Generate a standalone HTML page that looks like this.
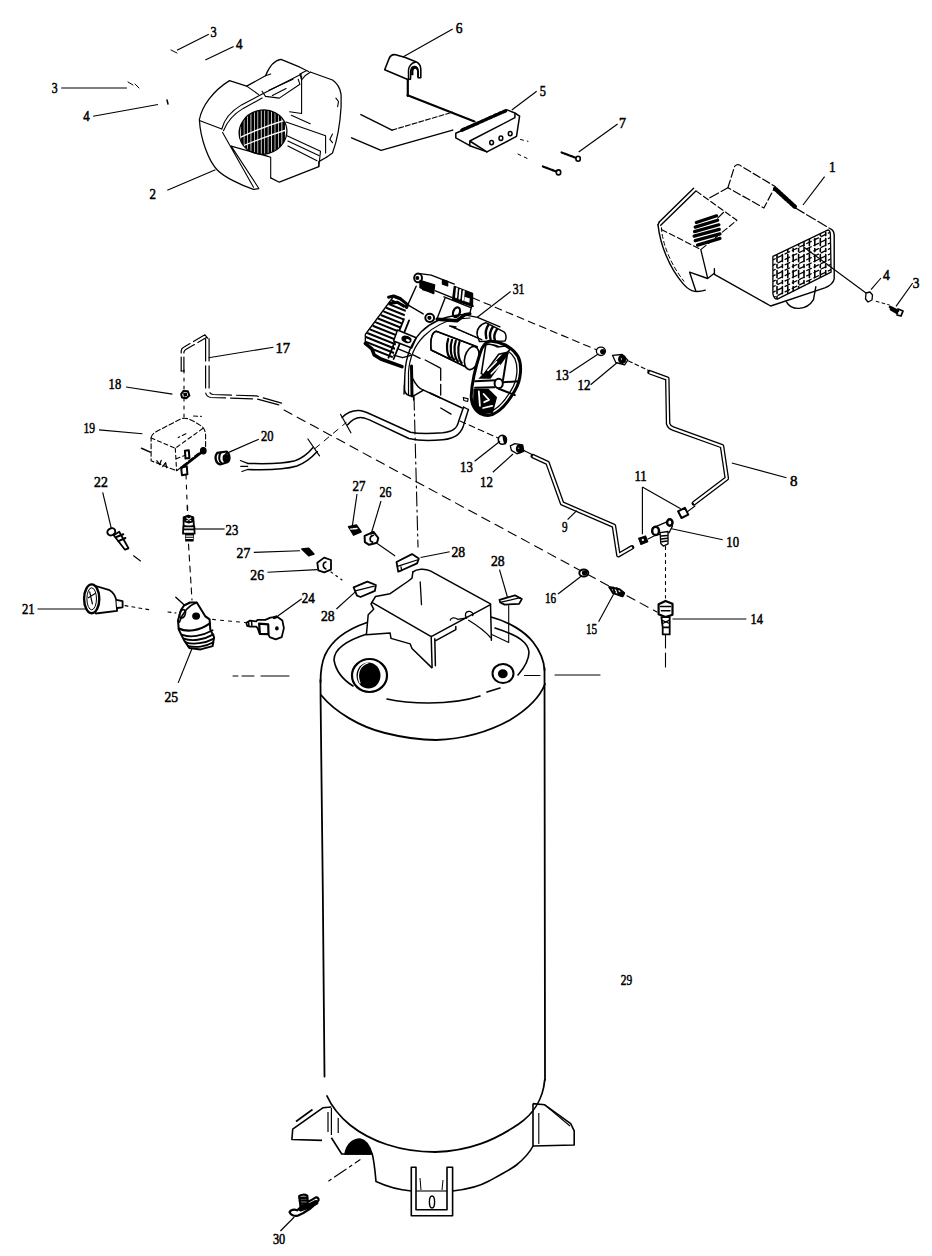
<!DOCTYPE html>
<html><head><meta charset="utf-8"><style>
html,body{margin:0;padding:0;background:#fff;width:932px;height:1256px;overflow:hidden}
svg{display:block}
.lb text{font-family:"Liberation Serif",serif;font-size:15.5px;fill:#000;stroke:#000;stroke-width:0.55px}
</style></head><body>
<svg width="932" height="1256" viewBox="0 0 932 1256">
<g id="tank" stroke="#000" stroke-width="1.8" fill="none" stroke-linecap="round" stroke-linejoin="round">
 <path d="M320.5,680 L320.6,700 L322.8,890 L324.5,1076.5"/>
 <path d="M544.5,668 L545,1080"/>
 <path d="M544.7,1080 C543,1100 532,1115 518.7,1124 C495,1140 470,1151 435,1152 C400,1152 370,1141 350,1125 C338,1115 331,1105 327,1096"/>
 <path d="M320.5,682 C320.5,668 322,662 325,655 C331,642 345,630 367,622.5"/>
 <path d="M491,617 C510,622 525,632 533,642 C540,651 544,660 544.5,670"/>
 <path d="M321,695 C335,712 360,727 385,733 C405,738 420,740 436,740 C465,739 490,731 510,720 C528,709 540,697 545,684"/>
 <path d="M367,634 C345,641 334,650 334,660 C336,672 345,681 353,686" stroke-width="1.6"/>
 <path d="M387,699 C400,702 415,703 429,703 C450,703 465,701 480,696" stroke-width="1.6"/>
 <path d="M518,675 C525,667 529,660 529,652 C528,643 520,636 495,628" stroke-width="1.6"/>
 <path d="M487,692 L500,688" stroke-width="1.6"/>
 <!-- left port -->
 <ellipse cx="369.5" cy="675.5" rx="17.5" ry="16.5" stroke-width="2.2"/>
 <ellipse cx="368.5" cy="675.5" rx="12" ry="13" fill="#000" stroke="none"/>
 <path d="M360,683 C356,674 360,665 368,663" stroke="#fff" stroke-width="1.2"/>
 <!-- right port -->
 <ellipse cx="503" cy="673.5" rx="10.5" ry="9.5" stroke-width="2"/>
 <ellipse cx="502.8" cy="673.8" rx="4" ry="3.6" fill="#000"/>
</g>
<g id="feet" stroke="#000" stroke-width="1.6" fill="none" stroke-linejoin="round">
 <path d="M331.4,1107 L322.8,1107.8 L292.7,1129.2 L291.9,1139.5 L322,1140.4"/>
 <path d="M296,1121.5 L312.5,1109.5"/>
 <path d="M331.4,1108 L331.4,1135 M338.2,1118 L338.2,1133 M328,1112 L328,1132" stroke-width="1.2"/>
 <path d="M331.4,1137.8 L341.7,1154 L370.8,1154"/>
 <path d="M345,1154 C347,1143 354,1139 360,1139 C366,1140 370,1147 372,1154 Z" fill="#000"/>
 <path d="M372,1153 C374,1160 375,1170 376,1181.5 C390,1188 400,1190 411.3,1191"/>
 <path d="M452.6,1191 C470,1189 480,1186 488,1181.5 C500,1175 510,1170 516.4,1165 C525,1158 530,1152 533,1146"/>
 <path d="M411.3,1167.3 L411.3,1215.7 L452.6,1215.7 L452.6,1167.3 L447,1167.3 L447,1209.8 L416,1209.8 L416,1167.3 Z"/>
 <path d="M416,1191 L447,1191" stroke-width="1.1"/>
 <ellipse cx="432" cy="1202" rx="2.6" ry="6" stroke-width="1.4"/>
 <path d="M420,1178 L421,1190 M443,1180 L442,1190" stroke-width="1"/>
 <path d="M533,1103.6 L544.7,1104.8 L570.7,1123.7 L574.2,1130.8 L574.2,1145 L533,1146 L533,1103.6"/>
 <path d="M538.8,1113 L538.8,1144 M544.7,1104.8 L570,1126" stroke-width="1.1"/>
</g>

<g stroke="#000" stroke-width="1.25" fill="none" stroke-linecap="round" stroke-linejoin="round">
<path d="M 199.4,119.5 C 202.0,106.7 212.3,91.2 229.5,80.6 L 246.7,86.1 L 265.5,75.8 C 269.0,67.2 274.1,60.3 281.0,59.4 L 299.9,67.2 L 308.5,71.5" />
<path d="M 310.2,72.0 L 332.5,80.0 C 337.6,83.5 340.2,87.8 341.1,94.6 L 341.1,106.7 C 340.2,122.1 337.6,139.3 332.5,153.0 L 326.5,157.3" />
<path d="M 199.4,119.5 C 200.3,139.3 208.9,161.6 217.5,170.2 C 224.3,177.0 241.5,185.6 253.5,189.4 L 258.7,188.7" />
<path d="M 326.5,157.3 L 318.8,161.6 L 318.8,166.7 L 279.3,182.2 L 270.7,177.9" />
</g>
<g stroke="#000" stroke-width="1.1" fill="none" stroke-linecap="round" stroke-linejoin="round">
<path d="M 199.4,120.4 L 221.8,129.0" />
<path d="M 221.8,129.0 C 224.3,118.7 232.9,110.1 241.5,104.9 L 260.4,95.0 L 301.6,74.0" />
<path d="M 223.5,130.7 C 226.9,122.1 234.6,113.5 243.2,108.4 L 262.1,98.1" />
<path d="M 222.6,132.4 L 253.5,187.3 M 231.2,146.1 L 258.7,188.2" />
<path d="M 231.2,146.1 L 270.7,157.3 L 270.7,177.9 M 263.8,154.7 L 270.7,157.3" />
<path d="M 286.1,122.1 L 325.6,135.8 L 325.6,153.0 M 287.0,135.8 L 320.5,151.3 L 318.8,166.7 M 287.9,141.0 L 318.8,155.6 M 287.9,146.1 L 317.0,160.7" />
<path d="M 301.6,75.8 L 301.6,113.5 L 289.6,111.8 M 291.3,115.2 L 310.2,123.8" />
<path d="M 262.1,91.2 L 265.5,96.4 L 279.3,98.1 L 299.9,84.3 L 298.2,79.2 M 269.0,90.3 L 293.0,79.2 M 272.4,95.5 L 286.1,88.6" />
<path d="M 310.2,72.3 L 305.0,75.8 L 301.6,80.0 L 299.9,74.0 L 306.7,70.6" />
<path d="M 335.9,98.1 L 338.5,101.5 L 337.6,106.7 M 332.5,134.1 L 329.9,139.3 L 332.5,142.7" />
<path d="M 265.5,75.8 L 270.7,74.0 M 246.7,86.1 L 258.7,94.6" />
</g>
<defs><clipPath id="gr2"><ellipse cx="263.0" cy="132.1" rx="24.0" ry="22.0" transform="rotate(-15 263.0 132.1)" /></clipPath></defs>
<g clip-path="url(#gr2)"><path d="M 238.9,108.4 L 238.9,156.4 M 242.4,108.4 L 242.4,156.4 M 245.8,108.4 L 245.8,156.4 M 249.2,108.4 L 249.2,156.4 M 252.7,108.4 L 252.7,156.4 M 256.1,108.4 L 256.1,156.4 M 259.5,108.4 L 259.5,156.4 M 263.0,108.4 L 263.0,156.4 M 266.4,108.4 L 266.4,156.4 M 269.8,108.4 L 269.8,156.4 M 273.3,108.4 L 273.3,156.4 M 276.7,108.4 L 276.7,156.4 M 280.1,108.4 L 280.1,156.4 M 283.6,108.4 L 283.6,156.4" stroke="#000" stroke-width="2.7"/><path d="M 236.4,139.3 C 250.1,132.4 267.3,125.5 289.6,118.7 M 236.4,148.7 C 250.1,142.7 267.3,135.8 289.6,129.0" stroke="#fff" stroke-width="1.3" fill="none"/></g>
<ellipse cx="263.0" cy="132.1" rx="24.0" ry="22.0" transform="rotate(-15 263.0 132.1)" stroke="#000" stroke-width="1.2" fill="none"/>
<g stroke="#000" stroke-width="1.5" fill="none" stroke-linecap="round" stroke-linejoin="round">
<path d="M 384.7,69.8 L 388.8,59.2 C 390.1,55.9 393.0,54.3 395.6,54.8 L 405.3,57.6 L 415.2,61.4 C 418.8,62.7 420.8,65.6 420.8,69.1 L 420.8,77.7 L 418.1,77.7 L 418.1,72.0 C 417.8,68.5 416.2,66.6 414.3,66.6 C 412.0,66.9 410.7,69.5 410.7,72.0 L 410.5,79.1 L 407.8,79.4 Z" fill="#fff" stroke-width="1.6"/>
<path d="M 408.5,79.1 L 408.5,70.1 C 408.8,65.6 412.0,62.7 415.2,62.3" stroke-width="1.5"/>
<path d="M 411.1,75.3 L 411.4,69.5 C 412.0,66.6 413.9,65.6 415.2,65.7 C 417.5,66.2 418.8,68.2 418.8,70.8 L 418.8,76.9 L 417.2,76.9 L 417.2,71.4 C 416.8,69.5 416.2,68.7 415.2,68.7 C 413.9,68.8 413.5,70.1 413.4,72.0 L 413.4,75.3 Z" fill="#000" stroke="none"/>
<path d="M 407.8,79.8 L 407.8,95.9" stroke-width="2.2"/>
<path d="M 407.6,95.3 L 474.5,121.4" stroke-width="2.2"/>
<path d="M 360.9,114.6 L 392.0,130.1 M 351.6,137.9 L 381.1,150.4 L 452.7,130.1" />
<path d="M 392.0,130.1 L 452.7,112.1" stroke-width="1.1" stroke-dasharray="5 2"/>
<path d="M 455.8,133.2 L 507.1,109.9 L 514.9,113.0 L 519.6,116.1 L 516.5,136.4 L 486.9,151.9 L 469.8,145.7 L 455.8,137.9 Z" fill="#fff"/>
<path d="M 469.8,145.7 L 469.8,141.0 L 514.9,117.7 M 486.9,151.9 L 469.8,141.0 M 514.9,113.9 L 514.9,117.7" />
<path d="M 462.0,130.1 L 505.6,110.8" stroke-width="3.5" stroke-dasharray="3 2"/>
<ellipse cx="491.6" cy="142.6" rx="1.9" ry="2.2" /><ellipse cx="500.9" cy="138.2" rx="1.9" ry="2.2" /><ellipse cx="510.2" cy="133.6" rx="1.9" ry="2.2" />
<path d="M 520.5,139.5 L 528.0,141.3 M 518.0,154.1 L 528.0,158.8" stroke-width="1" stroke-dasharray="3 4"/>
<path d="M 561.6,152.5 L 576.5,158.1 M 542.9,166.5 L 556.9,171.8" stroke-width="2.2" stroke-dasharray="2 1.2"/>
<ellipse cx="578.1" cy="158.8" rx="2.2" ry="2.5" fill="#fff" stroke-width="1.6"/><ellipse cx="558.5" cy="172.4" rx="2.2" ry="2.5" fill="#fff" stroke-width="1.6"/>
</g>
<g stroke="#000" stroke-width="1.3" fill="none" stroke-linecap="round" stroke-linejoin="round">
<path d="M 659.2,222.6 L 694.1,188.8 L 696.3,191.1 L 736.9,220.3 L 714.4,272.2 L 707.6,278.9 L 705.3,290.2 C 694.1,293.6 688.4,290.2 682.8,283.4 C 669.3,267.7 660.3,245.1 658.0,224.8 Z" fill="#fff" stroke="none"/>
<path d="M 659.2,222.1 L 693.6,188.3 M 660.7,225.3 L 695.9,191.1 M 658.0,224.8 C 660.3,245.1 669.3,267.7 682.8,283.4 C 688.4,290.2 694.1,293.6 705.3,290.2" stroke-width="1.4"/>
<path d="M 661.4,227.6 C 662.5,245.1 671.5,265.4 683.9,281.2" stroke-width="1" stroke-dasharray="4 3"/>
<path d="M 658.0,224.8 L 659.2,222.1" stroke-width="1.4"/>
<path d="M 689.6,272.2 L 695.9,291.3 M 689.6,272.2 L 707.6,278.5 L 714.4,273.3" stroke-width="1.4"/>
<path d="M 661.4,229.4 L 700.8,249.6 L 736.9,220.3 L 696.3,191.1" stroke-width="1.1" stroke-dasharray="6 3"/>
<path d="M 700.8,249.6 L 707.6,277.8" stroke-width="1.3"/>
<path d="M 696.3,222.6 L 716.6,215.8 M 695.2,227.1 L 717.7,220.3 M 694.5,231.6 L 718.9,224.8 M 694.1,236.1 L 719.3,229.4 M 695.2,240.6 L 720.0,233.9 M 697.5,245.1 L 720.0,238.4" stroke-width="3.2"/>
<path d="M 717.7,218.1 L 723.4,212.5" stroke-width="1.2"/>
<path d="M 727.9,187.7 L 734.6,166.3 C 736.9,164.0 739.1,164.0 741.4,166.3 L 775.2,186.5 L 763.9,208.0 Z" fill="#fff" stroke-width="1.2" stroke-dasharray="8 3"/>
<path d="M 775.2,188.8 L 795.5,207.3" stroke-width="4.5" stroke-dasharray="2 1.5"/>
<path d="M 709.8,197.8 L 727.9,187.7 M 795.5,208.0 L 831.5,229.4" stroke-width="1.2" stroke-dasharray="10 3"/>
<path d="M 831.5,229.4 C 833.3,230.5 834.2,232.7 834.2,236.1 L 834.2,278.9 C 833.3,283.4 830.4,285.7 824.8,287.9 L 770.7,306.0 L 714.4,274.4 L 714.4,268.8" stroke-width="1.4"/>
<path d="M 772.9,256.4 L 828.1,229.8 C 829.7,230.5 830.4,232.7 830.4,235.0 L 831.1,272.2 L 777.4,299.2 C 775.2,299.2 773.4,297.0 772.9,293.6 Z" fill="#fff" stroke-width="1.3"/>
<clipPath id="g1c"><path d="M 772.9,256.4 L 828.1,229.8 C 829.7,230.5 830.4,232.7 830.4,235.0 L 831.1,272.2 L 777.4,299.2 C 775.2,299.2 773.4,297.0 772.9,293.6 Z"/></clipPath>
<g clip-path="url(#g1c)"><path d="M 777.0,222.6 L 777.0,308.2 M 782.4,222.6 L 782.4,308.2 M 787.8,222.6 L 787.8,308.2 M 793.2,222.6 L 793.2,308.2 M 798.6,222.6 L 798.6,308.2 M 804.0,222.6 L 804.0,308.2 M 809.4,222.6 L 809.4,308.2 M 814.8,222.6 L 814.8,308.2 M 820.3,222.6 L 820.3,308.2 M 825.7,222.6 L 825.7,308.2" stroke-width="1.6" stroke-dasharray="7 3 3 3"/><path d="M 770.7,260.9 L 833.8,230.5 M 770.7,266.3 L 833.8,235.9 M 770.7,271.7 L 833.8,241.3 M 770.7,277.1 L 833.8,246.7 M 770.7,282.5 L 833.8,252.1 M 770.7,287.9 L 833.8,257.5 M 770.7,293.3 L 833.8,262.9 M 770.7,298.8 L 833.8,268.3 M 770.7,304.2 L 833.8,273.7" stroke-width="1.3" stroke-dasharray="5 3"/></g>
<path d="M 786.5,301.9 C 791.0,310.9 806.7,310.9 813.5,299.7 L 815.8,286.8" stroke-width="1.4"/>
<path d="M 866.0,293.0 L 870.0,292.0 L 872.5,295.0 L 872.0,300.0 L 868.0,302.0 L 865.5,299.0 Z" stroke-width="1.3"/>
<path d="M 876.1,301.3 L 889.4,305.0" stroke-dasharray="3 3" stroke-width="1"/>
<path d="M 890.0,307.0 L 898.0,311.0 M 891.0,309.5 L 897.0,313.0" stroke-width="2.6"/>
<path d="M 898.0,309.0 L 903.0,311.0 L 901.0,316.0 L 897.0,315.0" stroke-width="1.8"/>
</g>
<g stroke="#000" stroke-width="1.4" fill="none" stroke-linecap="round" stroke-linejoin="round">
<path d="M 436.4,331.3 C 432.1,331.8 430.0,339.3 431.1,350.0 L 470.8,369.4 L 477.2,346.8 Z" fill="#fff"/>
<path d="M 436.4,331.3 L 477.2,346.8 M 431.1,350.0 L 470.8,369.4 M 436.4,331.3 C 432.1,331.8 430.0,339.3 431.1,350.0" stroke-width="1.5"/>
<path d="M 448.2,338.8 C 446.1,344.7 446.6,355.4 450.4,358.1 M 452.0,339.8 C 449.8,345.8 450.4,356.5 454.1,359.7 M 455.8,340.9 C 453.6,346.8 454.1,357.6 457.9,361.3 M 459.5,342.0 C 457.4,347.9 457.9,358.6 461.7,362.9" stroke-width="2.2"/>
<ellipse cx="471.8" cy="358.1" rx="7.0" ry="11.8" transform="rotate(15 471.8 358.1)" fill="#fff" stroke-width="1.6"/>
<path d="M 449.3,325.9 L 481.5,339.8" stroke-width="1.0" stroke-dasharray="3 1.5"/>
<path d="M 477.2,335.0 C 476.1,329.7 480.4,323.8 485.8,322.7 L 504.0,331.8 C 506.7,333.9 506.4,338.2 505.1,340.9 L 479.4,341.5 Z" fill="#fff" stroke-width="1.5"/>
<path d="M 488.5,324.8 C 485.8,328.6 485.3,333.9 486.3,338.2 M 492.8,327.0 C 490.1,330.7 489.5,335.6 490.6,339.3 M 497.1,329.1 C 494.4,332.9 493.8,337.2 494.9,340.4" stroke-width="2.4"/>
<path d="M 430.0,393.0 L 462.2,408.0" stroke-width="1.5"/>
<path d="M 440.7,368.3 L 440.7,395.1 M 440.7,408.0 L 451.5,414.4" stroke-width="1.3" stroke-dasharray="12 4"/>
<path d="M 490.1,340.9 C 499.7,341.5 511.5,345.8 518.0,356.5 C 522.3,365.1 521.2,380.1 514.8,390.8 C 507.3,403.7 498.7,414.4 487.9,415.5 C 477.2,415.5 470.8,405.8 471.3,395.1 C 471.8,384.4 475.1,368.3 480.4,352.2 C 482.6,345.8 485.8,341.5 490.1,340.9 Z" fill="#fff" stroke-width="3"/>
<path d="M 487.9,344.1 C 497.6,344.7 509.4,349.0 514.8,358.6 C 518.5,367.2 517.4,380.1 511.5,389.7 C 505.1,400.5 497.6,410.1 488.5,411.7" stroke-width="1.3"/>
<path d="M 478.3,378.8 L 505.1,351.3 L 508.9,353.5 L 490.6,378.8 Z" fill="#000" stroke="none"/>
<path d="M 485.8,344.9 C 490.1,342.7 494.4,345.5 497.6,347.0 L 505.1,346.0 L 509.9,349.2 L 507.5,352.4 L 498.7,354.3 L 483.6,374.7 L 481.3,373.6 Z" fill="#fff" stroke-width="1.6"/>
<path d="M 487.9,370.4 L 496.5,361.8 M 491.2,373.6 L 499.7,365.1" stroke="#fff" stroke-width="1.6"/>
<path d="M 473.5,388.7 L 488.5,388.7 L 497.1,397.3 L 492.8,413.3 L 480.4,414.6 L 472.9,405.8 Z" fill="#000" stroke="none"/>
<path d="M 478.8,391.4 L 479.9,405.8 M 483.6,394.0 L 489.0,399.9 L 484.2,402.1 M 483.1,408.0 L 492.2,405.8" stroke="#fff" stroke-width="1.8"/>
<path d="M 475.1,381.2 L 500.8,380.1 M 475.1,387.8 L 494.4,387.2 M 503.0,382.2 L 519.3,381.2 M 507.5,352.2 L 503.0,380.1 M 498.7,388.7 L 514.8,395.1" stroke-width="2"/>
<ellipse cx="498.7" cy="383.5" rx="4.1" ry="4.8" fill="#fff" stroke-width="2"/>
<path d="M 463.3,397.5 L 468.1,398.9 L 467.6,401.5 L 463.8,400.5 Z" fill="#fff" stroke-width="1.2"/>
<path d="M 404.2,368.6 L 404.6,390.1 C 405.1,394.4 408.1,396.1 413.2,396.1 L 423.5,390.1 L 440.0,397.8" stroke-width="1.5"/>
<path d="M 412.4,378.1 C 415.8,384.9 420.1,389.2 423.5,390.1" stroke-width="1.4"/>
<path d="M 413.2,354.9 L 420.1,358.3 M 425.2,360.0 L 440.0,367.8" stroke-width="1.3"/>
<path d="M 413.6,397.0 L 413.6,400.0" stroke-width="1.3"/>
<path d="M 393.6,296.5 L 401.4,299.8 L 407.1,304.9 L 427.1,325.5 L 415.5,337.1 L 403.9,385.0 L 380.8,385.0 L 380.8,359.0 L 374.3,355.1 L 371.7,348.7 L 365.3,343.5 L 365.3,334.5 Z" fill="#fff" stroke="none"/>
<clipPath id="fin2"><path d="M 393.6,296.5 L 401.4,299.8 L 407.1,304.9 L 403.9,319.1 L 397.5,337.1 L 393.6,355.1 L 402.6,366.7 L 380.8,359.0 L 374.3,355.1 L 371.7,348.7 L 365.3,343.5 L 365.3,334.5 Z"/></clipPath>
<g clip-path="url(#fin2)"><path d="M 394.9,297.2 L 427.1,310.1 M 392.2,300.8 L 424.4,313.7 M 389.5,304.4 L 421.7,317.3 M 386.8,308.0 L 419.0,320.9 M 384.1,311.6 L 416.3,324.5 M 381.4,315.2 L 413.6,328.1 M 378.7,318.8 L 410.9,331.7 M 376.0,322.4 L 408.2,335.3 M 373.3,326.0 L 405.5,338.9 M 370.6,329.6 L 402.8,342.5 M 367.9,333.2 L 400.1,346.1 M 365.2,336.8 L 397.4,349.7 M 362.5,340.5 L 394.7,353.3 M 359.8,344.1 L 392.0,356.9" stroke-width="2.0"/></g>
<path d="M 393.6,296.5 L 365.3,334.5 L 365.3,343.5" stroke-width="1.3"/>
<path d="M 365.3,343.5 L 371.7,348.7 L 374.3,355.1 L 380.8,359.0 L 402.0,366.7" stroke-width="3.5"/>
<path d="M 388.5,297.2 L 393.6,295.9 L 400.1,298.5 L 407.8,304.9 L 406.5,307.5 M 389.8,303.6 L 397.5,302.3 L 403.9,306.2" stroke-width="3"/>
<path d="M 403.9,319.1 L 388.5,357.7 M 409.1,320.4 L 393.6,359.0" stroke-width="1.8"/>
<path d="M 397.5,330.0 L 416.2,337.7 L 411.7,348.0 L 393.6,341.0 Z" fill="#fff" stroke-width="1.5"/>
<ellipse cx="406.5" cy="339.4" rx="4.5" ry="2.8" transform="rotate(20 406.5 339.4)" fill="#000"/>
<ellipse cx="407.8" cy="340.3" rx="2.1" ry="1.2" transform="rotate(20 407.8 340.3)" fill="#fff" stroke="none"/>
<path d="M 393.6,355.1 L 402.6,357.7 L 411.7,355.1 M 397.5,348.7 L 410.4,353.8" stroke-width="1.4"/>
<path d="M 416.2,286.2 L 407.8,304.9 M 407.8,304.9 L 423.2,313.9" stroke-width="1.4"/>
<ellipse cx="418.1" cy="277.9" rx="3.9" ry="4.4" fill="#fff" stroke-width="2"/>
<ellipse cx="417.4" cy="277.9" rx="1.2" ry="1.3" fill="#000"/>
<path d="M 423.2,284.3 L 433.5,287.5 L 432.9,292.7 L 422.6,289.5 Z" fill="#000"/>
<ellipse cx="429.7" cy="317.8" rx="4.4" ry="4.1" fill="#fff" stroke-width="2"/>
<ellipse cx="429.4" cy="317.8" rx="1.4" ry="1.4" fill="#000"/>
<path d="M 420.0,273.6 L 431.2,275.1 L 454.3,284.1 M 435.5,290.8 L 473.2,306.2 M 444.0,296.8 L 471.5,307.9 M 444.9,298.5 L 437.2,318.2 M 471.5,306.2 L 469.8,313.9" stroke-width="1.4"/>
<path d="M 420.0,280.5 L 434.6,284.9 L 433.7,293.5 L 420.0,287.5 Z M 442.5,279.8 L 447.6,281.5 L 447.6,285.8 L 442.5,284.1 Z" fill="#000"/>
<path d="M 454.3,286.5 L 472.5,293.3 L 472.5,306.4 L 452.6,299.5 Z" fill="#000"/>
<path d="M 456.9,288.6 L 456.1,297.2 M 460.3,289.9 L 459.5,298.5 M 463.8,291.2 L 462.9,299.8" stroke="#fff" stroke-width="2"/>
<path d="M 464.6,296.8 L 469.8,298.5 L 469.4,302.8 L 464.2,301.1 Z" fill="#fff" stroke="none"/>
<ellipse cx="456.5" cy="312.2" rx="3.3" ry="5.0" transform="rotate(20 456.5 312.2)" fill="#fff" stroke-width="2.2"/>
<path d="M 437.2,319.2 L 456.9,320.8 L 464.6,314.8 L 469.8,313.9" stroke-width="3.5"/>
<path d="M 464.6,314.8 L 477.5,317.4 L 500.0,326.8 M 450.0,325.9 L 456.1,326.8 M 450.0,325.9 L 481.8,339.7" stroke-width="1.3"/>
<path d="M404,394 L405,372 C406,356 412,342 421,332 C430,323 442,317 458,315 L470,314" stroke-width="1.4"/>
<path d="M408.5,395 L408.5,372 C409.5,358 415,345 424,336 C433,327 444,321 458,319 L470,318" stroke-width="1.2"/>
<path d="M411.5,366 L412,396" stroke-width="3"/>
</g>
<g stroke="#000" stroke-width="1.2" fill="none" stroke-linecap="round" stroke-linejoin="round">
<path d="M 181.2,371.0 L 181.2,350.8 Q 181.4,348.4 183.7,347.3 L 204.9,334.8 M 183.9,371.0 L 183.9,352.2 Q 184.2,350.4 186.2,349.3 L 206.0,337.8 M 204.9,334.8 L 207.9,338.3" stroke-dasharray="14 4"/>
<path d="M 205.6,338.9 L 205.6,392.0 Q 205.8,396.4 210.7,397.5 L 256.5,398.9 L 282.7,405.9 M 209.1,338.9 L 209.1,390.3 Q 209.3,393.6 213.2,394.5 L 256.5,395.9 L 281.6,403.1" stroke-dasharray="22 5"/>
<path d="M 181.2,371.0 L 183.9,371.0" />
</g>
<g stroke="#000" stroke-width="1.5" fill="none" stroke-linecap="round" stroke-linejoin="round">
<path d="M 342.1,417.5 C 346.1,413.5 352.5,410.3 359.0,410.6 C 362.2,410.8 365.4,411.9 370.2,414.0 L 410.5,432.3 C 416.9,433.6 429.8,433.9 442.7,432.8 C 452.3,431.7 457.1,428.8 458.8,420.8 L 463.6,407.1" />
<path d="M 347.7,424.8 C 350.9,420.8 355.8,417.5 360.6,417.5 C 363.0,417.5 365.4,418.3 369.4,419.9 L 408.9,438.5 C 416.9,440.4 429.8,440.9 442.7,439.7 C 455.5,438.5 462.0,433.6 464.4,422.4 L 468.4,409.5" />
<path d="M 463.6,407.1 L 468.4,409.5 M 340.5,414.3 L 350.9,432.8" stroke-width="1.2"/>
<path d="M 247.7,463.4 C 262.1,463.9 279.5,464.5 294.0,461.1 C 302.7,458.2 308.5,452.9 312.8,447.7 M 247.7,469.5 C 262.1,470.0 282.4,470.3 296.9,466.0 C 307.0,462.2 312.8,456.4 317.2,451.5" />
<path d="M 307.9,439.0 L 319.5,455.8 M 240.4,460.5 L 247.7,463.4 M 240.7,466.3 L 247.7,466.3 M 241.9,471.5 L 247.7,469.5" stroke-width="1.2"/>
<path d="M 217.2,452.9 C 214.3,456.4 215.2,463.1 220.1,464.5 L 227.4,462.2 C 230.3,460.2 230.3,454.4 226.8,451.5 Z" fill="#fff" stroke-width="2.2"/>
<path d="M 221.0,452.4 C 218.1,455.8 218.7,461.6 222.2,463.9" stroke-width="2"/>
<ellipse cx="225.9" cy="458.2" rx="2.6" ry="3.5" fill="#000"/>
<path d="M 314.9,448.6 L 346.2,422.5" stroke-width="1" stroke-dasharray="6 6"/>
</g>
<g stroke="#000" stroke-width="1.1" fill="none" stroke-linecap="round" stroke-linejoin="round">
<path d="M284,410 L657,612" stroke-dasharray="9 6"/>
<path d="M414,396 L418,547" stroke-dasharray="14 4 2 4"/>
<path d="M420,586 L420,604"/>
<path d="M473,298 L597,350" stroke-dasharray="7 5"/>
<path d="M628.6,361 L649.7,371" stroke-dasharray="4 3"/>
<path d="M460,421 L498,438" stroke-dasharray="6 4"/>
<path d="M523,450 L533,455" />
<path d="M184,370 L184,390 M184,398 L184,420" stroke-dasharray="3 5"/>
<path d="M186,475 L187.5,513" stroke-dasharray="4 6"/>
<path d="M188.5,544 L192,600" stroke-dasharray="6 5"/>
<path d="M125,605.6 L151,610 M168,612 L176,613" stroke-dasharray="3 4"/>
<path d="M212.6,619.4 L247,622.8" stroke-dasharray="3 5"/>
<path d="M233,676 L238,676 M242,676 L254,676 M261,676 L289,676"/>
<path d="M555,675 L600,675"/>
<path d="M524.5,675.5 L540,675.5"/>
<path d="M133.6,555.8 L140.5,561"/>
<path d="M665.5,546.5 L665.5,598" stroke-dasharray="3 4"/>
<path d="M665.5,634 L665.5,671" stroke-dasharray="14 5"/>
<path d="M377.6,543.8 L394.8,555.8" />
<path d="M331,572 L342,580" stroke-dasharray="2 4"/>
<path d="M328.7,1181 L360,1159.7" stroke-dasharray="3 4 14 4"/>
<path d="M648,539 L660,533 M687,512 L695,506" />
</g>
<path d="M 649.5,372.2 L 667.3,378.6 L 668.1,423.7 C 668.9,426.1 670.5,427.7 672.9,428.5 L 722.0,446.2 L 726.8,478.4 L 693.8,503.4" stroke="#000" stroke-width="4.6" fill="none" stroke-linecap="round" stroke-linejoin="round"/><path d="M 649.5,372.2 L 667.3,378.6 L 668.1,423.7 C 668.9,426.1 670.5,427.7 672.9,428.5 L 722.0,446.2 L 726.8,478.4 L 693.8,503.4" stroke="#fff" stroke-width="2.0" fill="none" stroke-linecap="butt" stroke-linejoin="round"/>
<path d="M 532.8,456.1 L 547.5,462.8 L 562.1,503.4 L 613.9,525.9 L 618.4,555.2 L 632.0,547.3" stroke="#000" stroke-width="4.6" fill="none" stroke-linecap="round" stroke-linejoin="round"/><path d="M 532.8,456.1 L 547.5,462.8 L 562.1,503.4 L 613.9,525.9 L 618.4,555.2 L 632.0,547.3" stroke="#fff" stroke-width="2.0" fill="none" stroke-linecap="butt" stroke-linejoin="round"/>
<g stroke="#000" stroke-width="1.3" fill="none" stroke-linecap="round" stroke-linejoin="round">
<ellipse cx="600.9" cy="351.3" rx="4.5" ry="4.2" fill="#fff"/>
<ellipse cx="602.6" cy="351.6" rx="1.9" ry="1.9" fill="#000"/>
<path d="M 612.5,355.3 L 622.2,354.5 L 627.8,360.1 L 624.6,364.9 L 615.8,362.5 Z" fill="#fff"/>
<ellipse cx="622.2" cy="359.3" rx="3.5" ry="4.0" fill="#000"/>
<ellipse cx="621.4" cy="359.0" rx="1.3" ry="1.4" fill="#fff"/>
<ellipse cx="502.4" cy="439.8" rx="4.1" ry="4.5" fill="#fff" stroke-width="1.6"/>
<path d="M 503.1,435.8 C 506.2,436.9 507.1,441.4 505.3,443.9 C 504.0,442.5 503.5,439.2 503.1,435.8 Z" fill="#000"/>
<path d="M 510.3,445.9 L 514.8,443.7 L 522.7,444.8 L 523.8,451.5 L 517.0,453.8 L 511.4,450.4 Z" fill="#fff"/>
<ellipse cx="519.7" cy="448.8" rx="3.2" ry="4.1" fill="#000"/>
<ellipse cx="518.8" cy="448.2" rx="1.1" ry="1.4" fill="#fff"/>
<path d="M 638.7,538.3 L 645.5,536.0 L 647.7,541.7 L 641.0,544.4 Z" fill="#000"/>
<ellipse cx="642.8" cy="539.9" rx="1.8" ry="1.8" fill="#fff"/>
<path d="M 678.1,511.3 L 684.9,507.9 L 688.3,514.6 L 681.5,518.0 Z" fill="#fff" stroke-width="2"/>
<path d="M 652.2,528.2 L 668.0,521.4 L 672.5,525.9 L 669.1,532.7 L 656.7,534.9 Z" fill="#fff"/>
<ellipse cx="655.6" cy="530.9" rx="3.4" ry="4.1" fill="#fff" stroke-width="2.5"/>
<ellipse cx="669.8" cy="522.5" rx="2.7" ry="3.2" fill="#fff" stroke-width="2.5"/>
<path d="M 660.1,532.7 L 668.0,531.5 L 668.0,543.9 L 663.5,546.2 L 660.8,543.5 Z" fill="#fff"/>
<path d="M 661.2,536.0 L 667.6,535.4 M 661.2,539.0 L 667.6,538.3 M 661.7,541.7 L 667.1,541.0" stroke-width="1.5"/>
</g>
<g stroke="#000" stroke-width="1.3" fill="none" stroke-linecap="round" stroke-linejoin="round">
<path d="M 181.1,394.1 L 183.6,390.9 L 187.8,391.2 L 189.4,395.5 L 186.3,398.2 L 182.0,397.4 Z" fill="#fff" stroke-width="2"/>
<path d="M 183.0,393.2 L 186.8,392.8 L 187.4,396.1 L 183.9,396.7 Z" fill="#000" stroke="none"/>
<path d="M 151.1,437.6 C 152.1,433.7 155.0,432.2 158.8,430.3 L 181.1,418.7 C 185.9,417.3 189.7,419.2 193.6,421.2 L 201.3,426.0 C 204.2,427.9 205.6,431.8 205.6,435.7 L 205.6,447.3 L 176.6,470.8 L 151.1,460.8 Z" fill="#fff" stroke-width="1.1" stroke-dasharray="5 2.5"/>
<path d="M 151.1,438.0 L 175.3,448.2 L 203.6,427.9 M 175.3,448.2 L 176.6,470.8 M 193.6,416.0 L 201.3,416.4 M 185.9,433.7 L 178.2,437.6 M 176.2,458.8 L 185.9,455.0" stroke-width="1.1" stroke-dasharray="4 3"/>
<path d="M 184.9,450.7 L 188.8,450.2 L 189.4,457.9 L 185.5,458.5 Z M 181.1,467.5 L 186.8,466.2 L 187.4,474.3 L 182.0,475.3 Z" fill="#fff" stroke-width="2"/>
<path d="M 182.0,467.5 L 203.3,451.1" stroke-width="2.5"/>
<ellipse cx="203.3" cy="450.7" rx="2.7" ry="3.1" fill="#000"/>
<path d="M 156.9,460.8 L 159.8,464.6 L 161.2,460.4 M 162.7,466.6 L 165.6,462.7 L 166.6,467.5" stroke-width="1.3"/>
<path d="M 141.5,448.2 L 150.2,452.1" stroke-width="1.5"/>
<ellipse cx="111.3" cy="531.8" rx="4.1" ry="3.4" transform="rotate(-30 111.3 531.8)" fill="#fff" stroke-width="2"/>
<path d="M 113.7,535.2 L 119.2,531.8 L 128.5,548.3 L 125.0,549.7 Z" fill="#fff" stroke-width="1.8"/>
<path d="M 116.4,537.0 L 123.3,534.2 M 118.5,541.1 L 125.4,538.0" stroke-width="2"/>
<path d="M 183.6,517.4 L 188.2,515.5 L 193.3,517.4 L 193.9,525.8 L 188.8,527.3 L 183.6,525.8 Z" fill="#fff" stroke-width="1.8"/>
<path d="M 184.5,517.0 L 188.8,515.7 L 192.7,517.4 L 193.0,521.6 L 188.8,522.9 L 184.9,521.6 Z" fill="#000"/>
<path d="M 186.9,518.0 L 190.7,520.6 M 190.7,518.0 L 186.9,520.6" stroke="#fff" stroke-width="1.2"/>
<path d="M 183.3,526.4 L 194.3,526.4 L 194.6,533.7 L 183.0,533.7 Z M 183.6,529.4 L 193.9,529.4" fill="#fff" stroke-width="1.8"/>
<path d="M 185.8,533.7 L 193.3,533.7 L 193.0,540.9 L 185.8,540.9 Z" fill="#000"/>
<path d="M 186.2,536.1 L 192.7,536.1 M 186.2,538.4 L 192.7,538.4" stroke="#fff" stroke-width="1.2"/>
<path d="M 187.5,506.4 L 187.5,514.2" stroke-dasharray="4 6"/>
<path d="M 92.4,585.0 L 109.6,590.2 C 113.0,591.9 116.4,597.0 116.4,602.2 L 117.1,610.8 L 95.8,613.5" fill="#fff" stroke-width="1.8"/>
<ellipse cx="91.7" cy="598.8" rx="7.6" ry="14.4" fill="#fff" stroke-width="2.4"/>
<ellipse cx="91.7" cy="598.8" rx="4.8" ry="11.0" fill="none" stroke-width="1"/>
<path d="M 89.7,591.9 L 92.4,603.9 M 88.3,597.7 L 95.2,593.6" stroke-width="1.2"/>
<path d="M 116.4,599.8 L 122.6,601.2 L 122.6,607.3 L 117.1,608.0" fill="#fff" stroke-width="1.8"/>
<path d="M 184.0,605.5 L 190.0,602.5 L 196.8,602.5 L 205.1,616.1 L 209.6,619.4 L 210.3,629.6 L 214.1,637.1 L 212.6,646.1 L 200.6,649.4 L 189.3,647.9 L 184.0,640.1 L 178.8,629.6 L 178.0,620.6 L 181.0,610.0 Z" fill="#fff" stroke-width="2"/>
<path d="M 196.8,602.5 C 188.5,605.5 182.5,613.0 179.5,622.1" stroke-width="1.6"/>
<path d="M 178.8,628.4 C 187.0,632.6 199.1,630.8 209.9,623.3" stroke-width="2.2"/>
<path d="M 182.5,634.8 C 190.0,637.8 202.1,636.3 212.6,630.3 M 184.0,638.6 C 191.5,641.6 203.6,640.1 213.5,634.4 M 185.8,642.3 C 193.3,644.9 205.1,643.4 213.8,638.6 M 187.8,645.8 C 195.3,647.9 205.8,646.8 213.3,642.3" stroke-width="1.8"/>
<ellipse cx="196.1" cy="616.1" rx="3.3" ry="3.0" fill="#000"/>
<ellipse cx="182.5" cy="613.8" rx="2.7" ry="4.2" transform="rotate(20 182.5 613.8)" fill="none" stroke-width="1.6"/>
<path d="M 175.8,597.3 L 184.0,604.8" stroke-width="1.4"/>
<path d="M 246.4,622.8 L 250.1,620.6 L 256.1,621.3 L 257.6,619.8 L 265.2,619.8 L 270.4,617.6 L 277.2,616.8 L 282.4,620.6 L 283.9,628.1 L 281.7,637.1 L 275.7,639.3 L 269.7,637.1 L 268.2,634.1 L 259.9,634.1 L 257.6,628.1 L 256.1,626.6 L 250.1,626.6 L 247.1,625.8 Z" fill="#fff" stroke-width="1.8"/>
<path d="M 259.1,623.6 L 268.2,624.3 L 268.5,634.1 L 259.9,633.8 Z" fill="#fff" stroke-width="2.2"/>
<path d="M 248.6,622.1 L 248.9,625.8 M 251.6,621.3 L 251.9,626.3" stroke-width="1.5"/>
<ellipse cx="276.9" cy="628.4" rx="1.2" ry="1.5" fill="#000"/>
<path d="M 274.2,617.6 L 276.4,616.8" stroke-width="3"/>
<path d="M 301.8,549.0 L 308.7,548.3 L 313.9,554.1 L 308.7,555.8 Z" fill="#000" stroke-width="1.5"/>
<path d="M 317.3,562.7 L 324.2,557.6 L 331.0,560.0 L 331.0,569.6 L 324.2,572.3 L 318.3,570.3 Z" fill="#fff" stroke-width="1.8"/>
<path d="M 325.9,562.0 C 322.4,562.7 322.4,567.9 325.9,568.9" stroke-width="1.6"/>
</g>
<g stroke="#000" stroke-width="1.4" fill="none" stroke-linecap="round" stroke-linejoin="round">
<path d="M 348.5,526.7 L 356.4,524.9 L 361.2,531.8 L 353.6,535.2 Z" fill="#000"/>
<path d="M 350.9,529.1 L 357.0,528.4" stroke="#fff" stroke-width="1.5"/>
<path d="M 364.6,535.9 L 373.5,531.8 L 378.3,538.0 L 377.0,542.8 L 369.1,544.8 L 364.9,542.1 Z" fill="#fff" stroke-width="2"/>
<path d="M 373.5,535.2 C 369.1,535.9 369.1,541.4 372.5,542.1" stroke-width="1.6"/>
<path d="M 396.5,562.0 L 412.0,554.1 L 418.8,558.6 L 417.1,563.4 L 401.7,570.3 L 398.2,571.6 Z" fill="#fff" stroke-width="1.8"/>
<path d="M 398.2,566.1 L 417.1,560.0 M 401.7,570.3 L 401.0,566.8" stroke-width="1.3"/>
<path d="M 353.6,587.4 L 367.3,581.6 L 375.9,585.0 L 374.9,590.9 L 360.5,597.0 L 357.0,595.7 Z" fill="#fff" stroke-width="1.8"/>
<path d="M 355.3,590.9 L 374.2,586.1" stroke-width="1.3"/>
<path d="M 499.5,599.8 L 515.0,595.3 L 521.8,599.1 L 519.1,603.9 L 504.7,604.6 L 500.2,602.5 Z" fill="#fff" stroke-width="1.8"/>
<path d="M 501.2,602.2 L 520.1,597.7" stroke-width="1.3"/>
<ellipse cx="583.8" cy="573.0" rx="4.5" ry="3.6" fill="#fff" stroke-width="2"/>
<ellipse cx="584.6" cy="573.0" rx="2.0" ry="1.7" fill="#000"/>
<path d="M 609.2,587.0 L 619.5,589.2 L 624.2,593.1 L 622.6,596.2 L 613.1,593.1 Z" fill="#fff" stroke-width="2"/>
<path d="M 613.1,587.5 L 614.8,593.1 M 616.7,588.3 L 618.7,594.2" stroke-width="2"/>
<ellipse cx="621.5" cy="593.9" rx="2.2" ry="2.0" fill="#000"/>
<path d="M 658.6,604.2 L 665.5,600.9 L 672.5,603.7 L 672.5,614.8 L 665.5,617.1 L 658.6,614.3 Z" fill="#fff" stroke-width="2.2"/>
<path d="M 660.5,606.5 L 670.6,606.5 M 661.4,610.7 L 670.0,610.7" stroke-width="1.5"/>
<path d="M 661.4,617.1 L 669.7,617.1 L 669.7,627.4 L 662.7,627.4 Z M 662.7,627.4 L 662.7,634.4 L 669.7,634.4 L 669.7,627.4" fill="#fff" stroke-width="1.8"/>
<path d="M 662.2,620.4 L 668.9,623.2 M 662.2,623.8 L 668.9,620.4" stroke-width="1.2"/>
<path d="M 289.5,1212.2 C 290.0,1210.1 294.3,1208.8 297.0,1210.3 L 300.8,1207.9 L 299.9,1201.5 L 299.2,1196.1 C 300.8,1194.5 305.1,1194.2 307.2,1195.6 L 307.7,1202.0 L 312.6,1199.4 L 315.8,1197.4 C 317.9,1197.2 319.0,1198.8 318.5,1200.4 L 315.8,1203.6 L 310.4,1208.5 L 302.9,1213.3 L 297.6,1215.7 C 294.3,1216.5 290.6,1214.9 289.5,1212.2 Z" fill="#fff" stroke-width="2.2"/>
<path d="M 299.7,1197.7 L 307.2,1197.7 M 299.9,1200.4 L 307.4,1200.4 M 300.2,1203.6 L 307.7,1203.6 M 300.8,1206.3 L 307.7,1205.8" stroke-width="2.5"/>
<path d="M 300.8,1209.0 L 309.4,1205.8 L 315.8,1202.6" stroke-width="5"/>
<path d="M171,50 L177,53 M128,82 L133,85 M135,84 L139,88" stroke-width="1"/>
<path d="M167,100 L168,104" stroke-width="1.5"/>
</g>
<g stroke="#000" stroke-width="1.5" fill="none" stroke-linecap="round" stroke-linejoin="round">
<path d="M 412.9,571.9 C 416.6,568.8 424.8,568.2 430.3,570.9 L 490.5,603.8 L 491.4,640.3 L 434.8,665.8 L 431.7,667.6 L 412.0,648.5 L 410.2,643.9 L 391.0,638.4 L 390.1,633.0 L 366.4,634.8 L 368.2,614.7 L 373.7,609.2 L 371.0,603.8 L 375.5,596.5 L 390.1,593.7 L 408.4,581.0 L 412.0,578.2 Z" fill="#fff" stroke="none"/>
<path d="M 412.9,571.9 C 416.6,568.8 424.8,568.2 430.3,570.9 L 490.5,603.8 L 491.4,640.3" />
<path d="M 431.7,667.6 L 412.0,648.5 L 410.2,643.9 L 391.0,638.4 L 390.1,633.0 L 366.4,634.8 L 368.2,614.7 L 373.7,609.2 L 371.0,603.8 L 375.5,596.5 L 390.1,593.7 L 408.4,581.0 L 412.0,578.2 L 412.9,571.9" />
<path d="M 371.9,602.3 L 431.2,636.6 L 490.5,604.7 M 431.2,636.6 L 432.1,667.6 M 434.8,638.8 L 435.4,665.8 M 434.8,641.2 L 455.8,629.7 L 455.8,626.6" />
<path d="M 468.6,620.2 C 477.7,625.7 485.0,631.1 490.5,637.5" stroke-width="1.2"/>
<path d="M 450.3,620.2 C 450.7,617.5 454.9,616.9 457.6,619.3 L 466.7,618.0 C 464.0,614.7 465.8,611.1 469.5,611.4 C 472.2,612.0 474.0,613.8 472.6,615.6" stroke-width="1.3"/>
<path d="M 420.2,581.9 L 421.5,604.7" stroke-width="1.3"/>
<path d="M 492.3,634.8 L 508.7,642.4 L 508.7,605.6" stroke-width="1.1"/>
</g>
<g stroke="#000" stroke-width="1.15" fill="none"><line x1="177" y1="50.2" x2="208.8" y2="34.2"/><line x1="205.3" y1="60" x2="233.6" y2="46.4"/><line x1="61.2" y1="88" x2="126.9" y2="88"/><line x1="93.1" y1="116.3" x2="158" y2="104.5"/><line x1="167.3" y1="190.3" x2="215.4" y2="169.7"/><line x1="402.9" y1="57" x2="452.7" y2="29"/><line x1="511.8" y1="110" x2="536.7" y2="91.2"/><line x1="578.7" y1="152" x2="617.6" y2="124"/><line x1="803" y1="205" x2="824.6" y2="176.6"/><line x1="871" y1="289.7" x2="881" y2="278"/><line x1="896" y1="306.4" x2="912.7" y2="283"/><line x1="477.3" y1="317.2" x2="510.6" y2="291.5"/><line x1="208.6" y1="357.7" x2="273.4" y2="347.2"/><line x1="126" y1="387" x2="172.4" y2="394.1"/><line x1="99" y1="429.9" x2="142.4" y2="433.7"/><line x1="225.3" y1="453.9" x2="258.8" y2="439.2"/><line x1="569.4" y1="373" x2="598.6" y2="353.7"/><line x1="590.6" y1="384.7" x2="617" y2="362.8"/><line x1="474.6" y1="461.3" x2="500" y2="441.3"/><line x1="492.8" y1="472.3" x2="513" y2="454"/><line x1="731.8" y1="463" x2="786.5" y2="477.8"/><line x1="567.6" y1="519.7" x2="576.7" y2="510.6"/><line x1="671.6" y1="528.8" x2="722.7" y2="539.8"/><line x1="102.7" y1="492.3" x2="111.3" y2="528.4"/><line x1="193.7" y1="529" x2="224.6" y2="529"/><line x1="357" y1="494" x2="352" y2="528.4"/><line x1="381" y1="501" x2="370.8" y2="535"/><line x1="253.8" y1="552.4" x2="300" y2="550.7"/><line x1="420.6" y1="557.5" x2="449.7" y2="551.7"/><line x1="267.5" y1="572.3" x2="317.3" y2="569.6"/><line x1="499.5" y1="569.6" x2="507.4" y2="597"/><line x1="37.5" y1="609" x2="87.3" y2="609"/><line x1="277.8" y1="616" x2="301.8" y2="598.8"/><line x1="336.4" y1="609" x2="355.3" y2="591.9"/><line x1="558" y1="594" x2="581.8" y2="575.8"/><line x1="598.6" y1="621.8" x2="615.3" y2="591"/><line x1="672.5" y1="619" x2="746.4" y2="619"/><line x1="178.2" y1="682.9" x2="192" y2="648.5"/><line x1="280.4" y1="1231" x2="294.3" y2="1217"/><line x1="642.4" y1="487" x2="642.4" y2="534.3"/><line x1="642.4" y1="487" x2="680.7" y2="508.8"/><line x1="803" y1="246.5" x2="866" y2="293"/></g>
<g class="lb"><text x="210.4" y="36.7" textLength="6.2" lengthAdjust="spacingAndGlyphs">3</text><text x="236.0" y="48.5" textLength="6.5" lengthAdjust="spacingAndGlyphs">4</text><text x="51.8" y="92.9" textLength="5.9" lengthAdjust="spacingAndGlyphs">3</text><text x="83.2" y="121.2" textLength="6.4" lengthAdjust="spacingAndGlyphs">4</text><text x="149.5" y="198.7" textLength="6.5" lengthAdjust="spacingAndGlyphs">2</text><text x="455.8" y="33.4" textLength="6.8" lengthAdjust="spacingAndGlyphs">6</text><text x="539.8" y="96.2" textLength="6.2" lengthAdjust="spacingAndGlyphs">5</text><text x="619.0" y="128.3" textLength="7.0" lengthAdjust="spacingAndGlyphs">7</text><text x="829.0" y="172.3" textLength="6.6" lengthAdjust="spacingAndGlyphs">1</text><text x="883.0" y="279.9" textLength="6.8" lengthAdjust="spacingAndGlyphs">4</text><text x="912.7" y="287.7" textLength="6.7" lengthAdjust="spacingAndGlyphs">3</text><text x="512.7" y="294.4" textLength="11.8" lengthAdjust="spacingAndGlyphs">31</text><text x="275.5" y="353.2" textLength="14.7" lengthAdjust="spacingAndGlyphs">17</text><text x="108.6" y="389.0" textLength="12.6" lengthAdjust="spacingAndGlyphs">18</text><text x="83.5" y="432.5" textLength="11.6" lengthAdjust="spacingAndGlyphs">19</text><text x="260.9" y="441.0" textLength="12.5" lengthAdjust="spacingAndGlyphs">20</text><text x="555.6" y="380.0" textLength="13.1" lengthAdjust="spacingAndGlyphs">13</text><text x="577.5" y="389.9" textLength="13.1" lengthAdjust="spacingAndGlyphs">12</text><text x="460.0" y="472.0" textLength="12.8" lengthAdjust="spacingAndGlyphs">13</text><text x="480.0" y="486.7" textLength="12.8" lengthAdjust="spacingAndGlyphs">12</text><text x="790.0" y="485.7" textLength="7.5" lengthAdjust="spacingAndGlyphs">8</text><text x="634.4" y="481.1" textLength="12.4" lengthAdjust="spacingAndGlyphs">11</text><text x="562.0" y="532.2" textLength="5.6" lengthAdjust="spacingAndGlyphs">9</text><text x="726.3" y="546.7" textLength="12.7" lengthAdjust="spacingAndGlyphs">10</text><text x="94.1" y="486.9" textLength="13.8" lengthAdjust="spacingAndGlyphs">22</text><text x="225.6" y="534.9" textLength="12.7" lengthAdjust="spacingAndGlyphs">23</text><text x="352.6" y="491.0" textLength="13.0" lengthAdjust="spacingAndGlyphs">27</text><text x="379.4" y="497.2" textLength="12.0" lengthAdjust="spacingAndGlyphs">26</text><text x="236.6" y="558.3" textLength="13.7" lengthAdjust="spacingAndGlyphs">27</text><text x="451.5" y="557.2" textLength="13.7" lengthAdjust="spacingAndGlyphs">28</text><text x="250.3" y="579.7" textLength="13.7" lengthAdjust="spacingAndGlyphs">26</text><text x="491.0" y="565.7" textLength="13.7" lengthAdjust="spacingAndGlyphs">28</text><text x="22.0" y="613.9" textLength="12.7" lengthAdjust="spacingAndGlyphs">21</text><text x="301.8" y="602.9" textLength="13.1" lengthAdjust="spacingAndGlyphs">24</text><text x="321.0" y="620.7" textLength="13.7" lengthAdjust="spacingAndGlyphs">28</text><text x="545.0" y="603.4" textLength="11.2" lengthAdjust="spacingAndGlyphs">16</text><text x="586.0" y="634.1" textLength="11.2" lengthAdjust="spacingAndGlyphs">15</text><text x="750.6" y="624.3" textLength="12.4" lengthAdjust="spacingAndGlyphs">14</text><text x="164.5" y="701.5" textLength="13.7" lengthAdjust="spacingAndGlyphs">25</text><text x="620.8" y="984.7" textLength="11.4" lengthAdjust="spacingAndGlyphs">29</text><text x="272.9" y="1243.6" textLength="12.3" lengthAdjust="spacingAndGlyphs">30</text></g>
</svg></body></html>
